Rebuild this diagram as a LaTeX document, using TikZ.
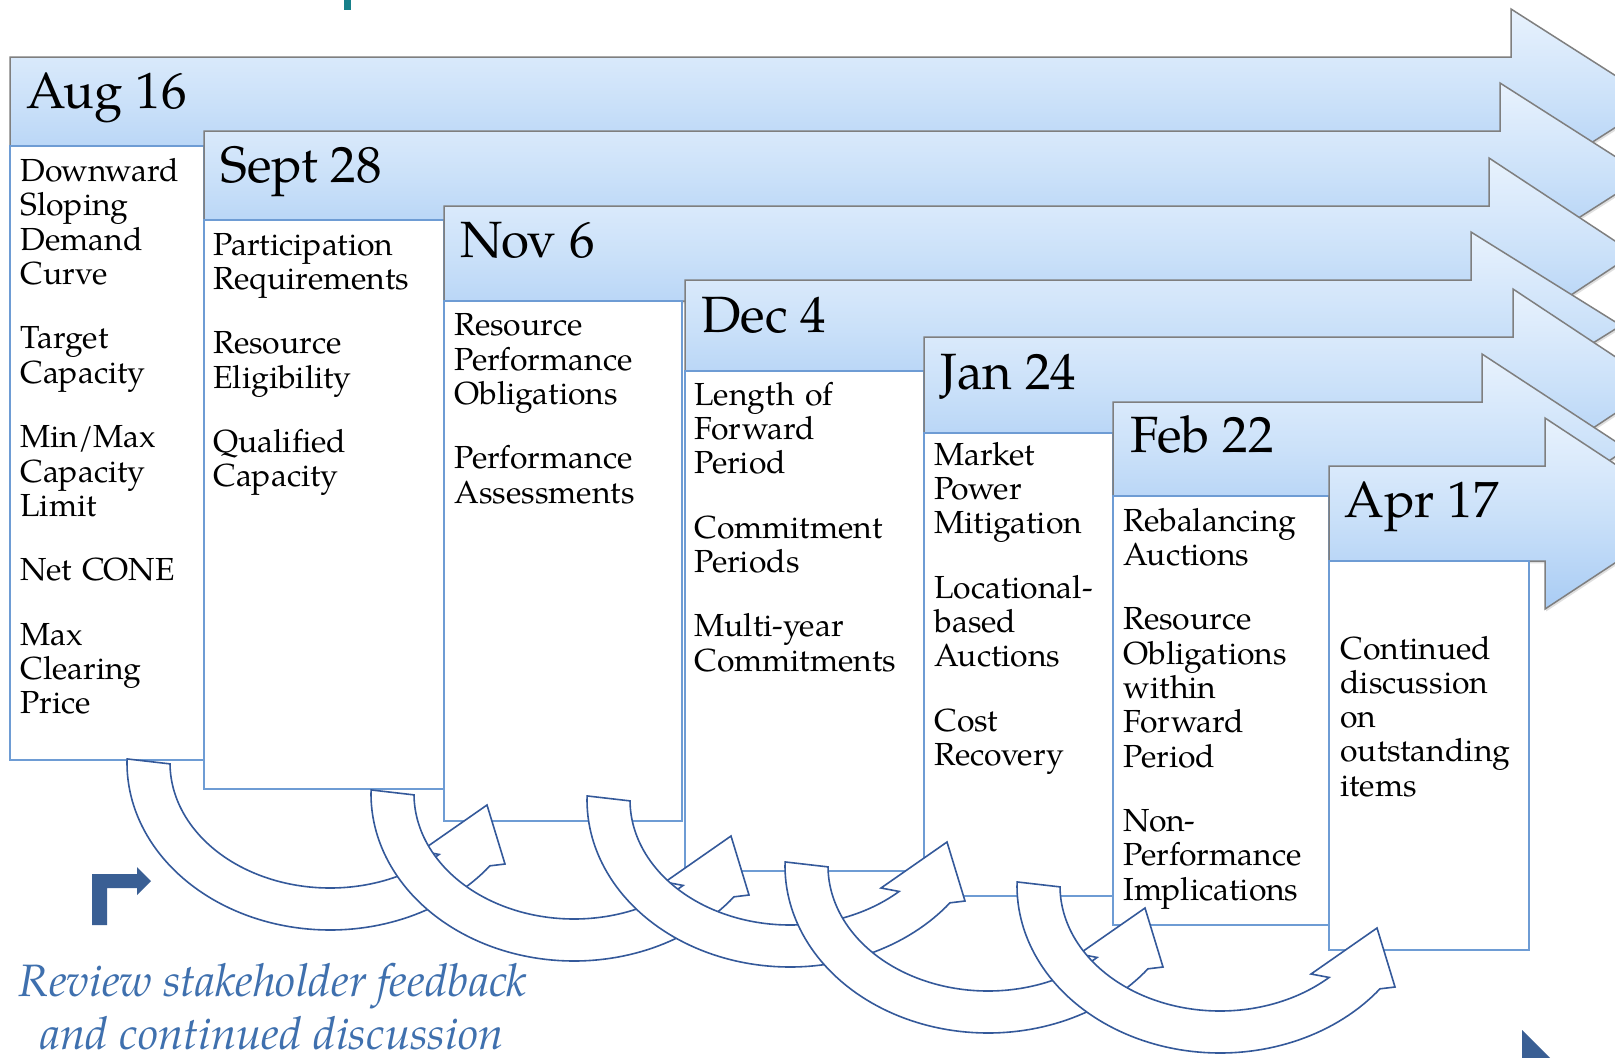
\documentclass[tikz,border=0pt]{standalone}
\usepackage{fontspec}
\setmainfont{TeX Gyre Pagella}
\usetikzlibrary{shadows}
\definecolor{bandtop}{HTML}{E8F2FD}
\definecolor{bandmid}{HTML}{CBE1F9}
\definecolor{bandbot}{HTML}{A9CCF4}
\definecolor{bandline}{HTML}{7F7F7F}
\definecolor{boxline}{HTML}{6E9CD4}
\definecolor{cvline}{HTML}{34599A}
\definecolor{iconblue}{HTML}{3A5F94}
\definecolor{captionblue}{HTML}{3F70AE}
\definecolor{tealmark}{HTML}{17808A}
\tikzset{
 bandshape/.style={draw=bandline, line width=0.75pt, top color=bandtop, bottom color=bandbot, middle color=bandmid,
   drop shadow={opacity=0.25, shadow xshift=0.6pt, shadow yshift=-1.2pt}},
 colbox/.style={draw=boxline, line width=0.9pt, fill=white},
 cvarrow/.style={draw=cvline, line width=0.8pt, fill=white, line join=miter},
 hdr/.style={anchor=base west, inner sep=0pt, font=\fontsize{25.5}{30}\selectfont},
 coltext/.style={anchor=base west, inner sep=0pt, align=left, text width=125pt, font=\fontsize{15.95}{17.15}\selectfont},
 captiontext/.style={anchor=base, inner sep=0pt, text=captionblue, font=\fontsize{22.7}{27}\selectfont\itshape},
}
\newcommand\cvarr[2]{%
 \begin{scope}[shift={(#1,#2)}]
 \draw[cvarrow] plot[domain=181.4:38,samples=80] ({203+203*cos(\x)},{5+167*sin(\x)})
   -- (378,106) -- (360,47) -- (294,93)
   -- plot[domain=47:179.6,samples=80] ({203+160*cos(\x)},{5+125*sin(\x)}) -- cycle;
 \end{scope}}
\begin{document}
\begin{tikzpicture}[x=0.5pt,y=-0.5pt]
\useasboundingbox (0,0) rectangle (1615,1057);
\clip (0,0) rectangle (1615,1057);
\fill[white] (0,0) rectangle (1615,1057);
\fill[tealmark] (344,0) rectangle (351,10);

% Aug 16
\draw[bandshape] (10,57) -- (1511,57) -- (1511,9) -- (1656,101.5) -- (1511,194) -- (1511,146) -- (10,146) -- cycle;
\draw[colbox] (10,146) rectangle (204,760);
\node[hdr] (h1) at (26,108) {Aug 16};
\node[coltext] (t1) at (20,181.5) {Downward\\Sloping\\Demand\\Curve\\[15.1pt]Target\\Capacity\\[15.1pt]Min/Max\\Capacity\\Limit\\[15.1pt]Net CONE\\[15.1pt]Max\\Clearing\\Price};

% Sept 28
\draw[bandshape] (204,131) -- (1500,131) -- (1500,83) -- (1645,175.5) -- (1500,268) -- (1500,220) -- (204,220) -- cycle;
\draw[colbox] (204,220) rectangle (444,789);
\node[hdr] (h2) at (220,182) {Sept 28};
\node[coltext] (t2) at (213,255) {Participation\\Requirements\\[15.1pt]Resource\\Eligibility\\[15.1pt]Qualified\\Capacity};

% Nov 6
\draw[bandshape] (444,206) -- (1489,206) -- (1489,158) -- (1634,253.5) -- (1489,349) -- (1489,301) -- (444,301) -- cycle;
\draw[colbox] (444,301) rectangle (682,821);
\node[hdr] (h3) at (460,257) {Nov 6};
\node[coltext] (t3) at (454,335.7) {Resource\\Performance\\Obligations\\[15.1pt]Performance\\Assessments};

% Dec 4
\draw[bandshape] (685,280) -- (1471,280) -- (1471,232) -- (1621,325.5) -- (1471,419) -- (1471,371) -- (685,371) -- cycle;
\draw[colbox] (685,371) rectangle (924,871);
\node[hdr] (h4) at (701,332) {Dec 4};
\node[coltext] (t4) at (694,405) {Length of\\Forward\\Period\\[15.1pt]Commitment\\Periods\\[15.1pt]Multi-year\\Commitments};

% Jan 24
\draw[bandshape] (924,337) -- (1513,337) -- (1513,289) -- (1658,385) -- (1513,481) -- (1513,433) -- (924,433) -- cycle;
\draw[colbox] (924,433) rectangle (1113,896);
\node[hdr] (h5) at (940,389) {Jan 24};
\node[coltext] (t5) at (934,465) {Market\\Power\\Mitigation\\[15.1pt]Locational-\\based\\Auctions\\[15.1pt]Cost\\Recovery};

% Feb 22
\draw[bandshape] (1113,402) -- (1482,402) -- (1482,354) -- (1627,449) -- (1482,544) -- (1482,496) -- (1113,496) -- cycle;
\draw[colbox] (1113,496) rectangle (1329,925);
\node[hdr] (h6) at (1130,452) {Feb 22};
\node[coltext] (t6) at (1123,531) {Rebalancing\\Auctions\\[15.1pt]Resource\\Obligations\\within\\Forward\\Period\\[15.1pt]Non-\\Performance\\Implications};

% Apr 17
\draw[bandshape] (1329,466) -- (1545,466) -- (1545,418) -- (1690,513.5) -- (1545,609) -- (1545,561) -- (1329,561) -- cycle;
\draw[colbox] (1329,561) rectangle (1529,950);
\node[hdr] (h7) at (1344,517) {Apr 17};
\node[coltext] (t7) at (1340,659) {Continued\\discussion\\on\\outstanding\\items};

% curved arrows
\cvarr{127}{758}
\cvarr{371}{789}
\cvarr{587}{795}
\cvarr{785}{861}
\cvarr{1017}{881}

% bent arrow icon
\fill[iconblue] (92,925) -- (92,874) -- (137,874) -- (137,867) -- (151,881) -- (137,895) -- (137,888) -- (107,888) -- (107,925) -- cycle;

% caption
\node[captiontext] (cap1) at (273,996) {Review stakeholder feedback};
\node[captiontext] (cap2) at (272,1049) {and continued discussion};

% corner triangle
\fill[iconblue] (1522,1030) -- (1560,1068) -- (1522,1068) -- cycle;
\end{tikzpicture}
\end{document}
